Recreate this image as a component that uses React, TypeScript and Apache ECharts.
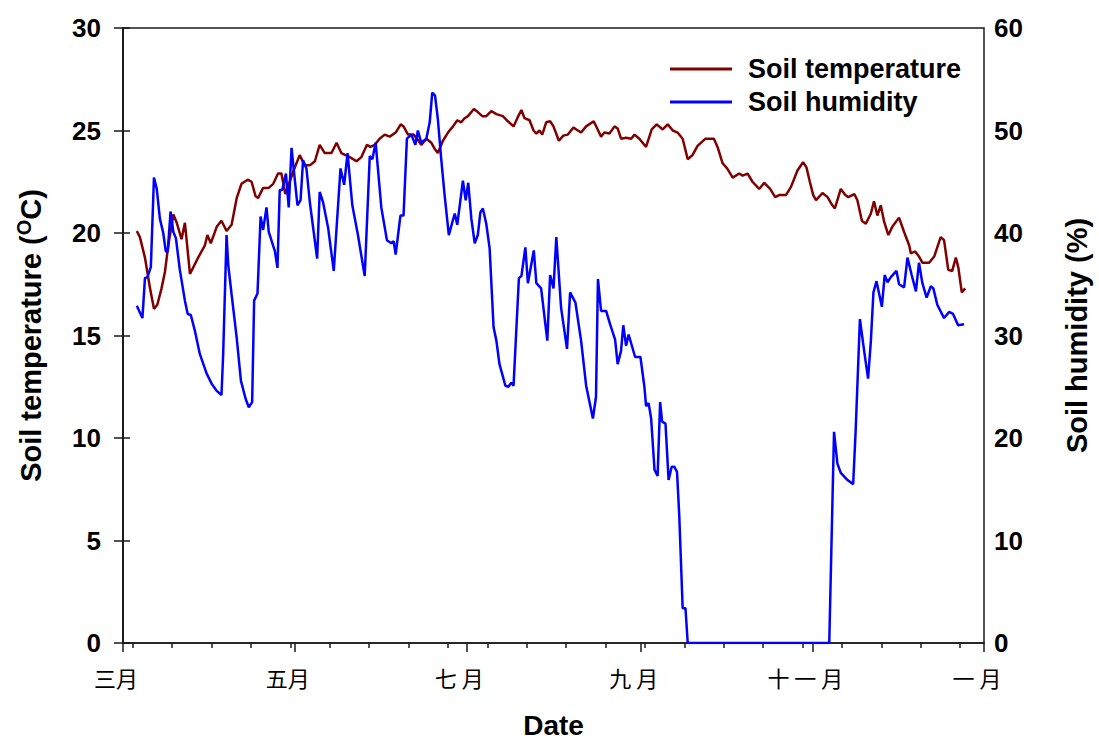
import React, { useEffect, useRef } from "react";
import * as echarts from "echarts";

// Day offsets counted from 1 March (0) to 1 January (306)
const monthTicks = [0, 61, 122, 184, 245, 306];
const monthLabels = ["三月", "五月", "七 月", "九 月", "十 一 月", "一 月"];
const minorTicks = [3.5, 17.5, 31.5, 45.5, 59.5, 73.5, 87.5, 101.5, 115.5, 129.5, 143.5, 157.5, 171.5, 185.5, 199.5, 213.5, 227.5, 241.5, 255.5, 269.5, 283.5, 297.5];

const tempDays = [4.9, 6.0, 7.8, 9.6, 11.0, 12.2, 13.7, 14.9, 16.1, 17.9, 19.1, 20.8, 22.0, 23.8, 26.7, 29.1, 30.0, 31.2, 33.3, 35.0, 36.8, 38.6, 40.4, 42.1, 44.3, 45.7, 47.1, 48.0, 49.8, 51.8, 53.4, 55.1, 56.3, 57.7, 60.5, 62.8, 64.6, 66.4, 68.2, 69.9, 71.7, 74.1, 75.9, 77.6, 80.6, 83.0, 84.7, 86.7, 87.9, 89.5, 91.2, 93.0, 94.8, 96.9, 98.7, 99.7, 101.3, 103.3, 104.5, 106.0, 107.8, 109.6, 110.8, 111.9, 113.7, 115.5, 117.3, 118.8, 120.2, 121.4, 122.6, 124.7, 126.1, 127.7, 129.1, 130.9, 132.7, 135.0, 136.8, 138.8, 140.3, 141.6, 142.7, 144.5, 145.9, 146.9, 148.0, 149.0, 150.4, 151.8, 153.0, 154.9, 156.5, 158.1, 160.1, 161.1, 162.8, 164.6, 167.3, 168.7, 169.9, 171.1, 172.9, 174.7, 175.8, 177.0, 178.8, 180.6, 181.8, 183.5, 185.9, 187.9, 189.7, 191.8, 193.6, 195.4, 197.1, 198.9, 200.7, 202.4, 204.2, 207.0, 208.4, 210.0, 211.3, 213.1, 214.7, 216.7, 219.0, 220.2, 222.0, 223.7, 226.1, 227.9, 230.0, 231.8, 233.2, 235.6, 237.4, 239.7, 241.7, 242.9, 244.1, 245.3, 246.3, 248.6, 250.4, 252.1, 253.0, 255.1, 256.7, 257.8, 259.9, 261.0, 262.6, 264.0, 265.8, 266.9, 268.1, 269.3, 270.5, 272.0, 273.4, 275.8, 277.6, 279.4, 280.0, 281.5, 282.9, 284.1, 286.5, 288.3, 290.6, 291.8, 293.3, 294.7, 296.0, 296.9, 298.1, 299.3];
const tempValues = [20.1, 19.8, 18.8, 17.3, 16.3, 16.5, 17.3, 18.1, 19.4, 20.9, 20.5, 19.7, 20.5, 18.0, 18.8, 19.4, 19.9, 19.5, 20.3, 20.6, 20.1, 20.4, 21.7, 22.4, 22.6, 22.5, 21.8, 21.7, 22.2, 22.2, 22.4, 22.9, 22.9, 21.9, 23.0, 23.8, 23.3, 23.3, 23.5, 24.3, 23.9, 23.9, 24.4, 23.9, 23.7, 23.5, 23.7, 24.3, 24.2, 24.3, 24.6, 24.8, 24.7, 24.9, 25.3, 25.2, 24.8, 24.8, 24.6, 24.3, 24.6, 24.4, 24.1, 23.9, 24.5, 24.9, 25.2, 25.5, 25.4, 25.6, 25.7, 26.05, 25.9, 25.7, 25.7, 25.95, 25.8, 25.7, 25.45, 25.2, 25.65, 26.0, 25.6, 25.5, 25.0, 24.85, 25.0, 24.8, 25.4, 25.45, 25.2, 24.5, 24.75, 24.8, 25.15, 25.05, 24.9, 25.2, 25.45, 25.05, 24.7, 24.9, 24.85, 25.2, 25.1, 24.6, 24.65, 24.6, 24.8, 24.6, 24.2, 25.05, 25.3, 25.05, 25.3, 25.0, 24.9, 24.6, 23.6, 23.8, 24.25, 24.6, 24.6, 24.6, 24.2, 23.4, 23.15, 22.7, 22.9, 22.8, 22.9, 22.5, 22.15, 22.45, 22.15, 21.75, 21.85, 21.85, 22.25, 23.05, 23.45, 23.2, 22.5, 21.85, 21.6, 21.95, 21.75, 21.35, 21.2, 22.15, 21.85, 21.75, 21.9, 21.6, 20.6, 20.45, 20.95, 21.55, 20.85, 21.35, 20.55, 19.9, 20.3, 20.75, 20.05, 19.4, 19.0, 19.1, 18.85, 18.55, 18.55, 18.85, 19.8, 19.65, 18.2, 18.15, 18.8, 18.3, 17.1, 17.3];

const humDays = [4.9, 6.9, 7.8, 8.7, 9.9, 11.0, 12.0, 13.1, 14.3, 15.2, 15.9, 16.9, 17.9, 18.8, 20.2, 22.0, 23.0, 24.1, 25.6, 27.3, 29.7, 31.5, 33.3, 35.0, 35.6, 36.8, 37.4, 38.6, 40.4, 41.9, 43.6, 44.7, 45.9, 46.6, 47.8, 48.9, 49.8, 51.0, 51.8, 54.0, 54.9, 55.7, 56.6, 57.9, 58.9, 59.9, 60.8, 62.0, 63.1, 64.0, 65.2, 66.4, 69.0, 69.9, 71.1, 72.9, 74.9, 77.3, 78.6, 79.8, 81.5, 83.5, 85.9, 87.7, 88.6, 89.8, 91.8, 93.8, 95.4, 96.2, 96.9, 98.6, 99.7, 100.9, 102.5, 103.9, 104.8, 106.0, 107.8, 109.0, 109.9, 110.9, 111.9, 113.1, 114.3, 115.8, 117.9, 118.8, 120.8, 121.8, 122.7, 123.8, 125.0, 126.1, 127.0, 127.9, 129.1, 130.3, 131.7, 132.7, 133.8, 135.9, 137.0, 138.0, 138.8, 140.7, 141.6, 143.0, 143.9, 146.0, 146.9, 148.6, 150.8, 151.8, 153.0, 154.0, 155.7, 157.8, 158.9, 160.8, 162.8, 164.6, 167.0, 168.1, 168.8, 169.9, 171.7, 173.1, 174.9, 175.8, 177.0, 177.8, 178.8, 179.7, 182.0, 183.9, 185.3, 185.9, 186.8, 187.7, 188.9, 190.0, 190.9, 191.6, 192.8, 193.9, 195.0, 195.9, 196.9, 197.7, 198.9, 199.9, 200.7, 251.0, 252.7, 253.9, 255.1, 257.5, 259.5, 260.4, 261.9, 263.4, 264.8, 265.8, 266.7, 267.8, 269.7, 270.7, 271.7, 272.9, 274.9, 275.8, 277.6, 278.8, 280.3, 281.8, 282.9, 284.1, 285.6, 287.1, 288.0, 289.4, 291.8, 293.6, 295.0, 296.8, 298.9];
const humValues = [32.9, 31.7, 35.6, 35.7, 36.7, 45.4, 44.3, 41.4, 40.0, 38.2, 38.2, 42.1, 40.1, 39.5, 36.4, 33.4, 32.1, 32.0, 30.4, 28.2, 26.3, 25.3, 24.6, 24.2, 28.2, 39.8, 36.9, 34.0, 29.8, 25.6, 23.8, 23.0, 23.5, 33.4, 34.1, 41.6, 40.3, 42.5, 40.1, 38.2, 36.6, 44.2, 44.2, 45.8, 42.5, 48.3, 45.9, 42.7, 43.2, 47.1, 46.3, 43.0, 37.5, 44.0, 43.0, 40.5, 36.3, 46.3, 44.7, 47.8, 42.7, 39.8, 35.8, 47.5, 47.2, 48.8, 42.5, 39.3, 39.0, 39.2, 37.9, 41.7, 41.7, 49.2, 49.6, 48.6, 50.0, 48.8, 49.2, 50.8, 53.7, 53.4, 51.1, 47.2, 43.7, 39.8, 41.9, 40.8, 45.1, 43.2, 44.9, 41.4, 39.0, 39.8, 42.0, 42.4, 40.9, 38.5, 30.8, 29.5, 27.2, 25.1, 25.0, 25.4, 25.1, 35.6, 35.8, 38.6, 35.1, 38.3, 35.1, 34.6, 29.5, 35.9, 34.6, 39.6, 32.7, 28.7, 34.2, 33.2, 29.5, 25.1, 21.9, 24.0, 35.5, 32.4, 32.4, 31.1, 29.6, 27.2, 28.5, 31.0, 29.0, 30.1, 27.9, 27.9, 25.0, 23.1, 23.4, 21.9, 16.9, 16.3, 23.5, 21.6, 21.4, 15.9, 17.2, 17.2, 16.7, 12.4, 3.4, 3.4, 0, 0, 20.6, 17.5, 16.6, 15.9, 15.5, 20.8, 31.6, 28.5, 25.8, 29.5, 34.2, 35.3, 32.8, 35.9, 35.2, 35.7, 36.3, 35.0, 34.7, 37.6, 35.9, 34.3, 37.1, 35.1, 33.7, 34.8, 34.6, 33.0, 31.7, 32.3, 32.1, 31.0, 31.1];

const FONT = "Arial, 'Liberation Sans', sans-serif";
const CJK = "'Noto Sans CJK SC', 'Noto Sans CJK JP', sans-serif";
const AXIS_COLOR = "#1a1a1a";

export default function App() {
  const ref = useRef<HTMLDivElement>(null);

  useEffect(() => {
    if (!ref.current) return;
    const chart = echarts.init(ref.current, undefined, { renderer: "svg" });
    const tempData = tempDays.map((d, i) => [d, tempValues[i]]);
    const humData = humDays.map((d, i) => [d, humValues[i]]);

    chart.setOption({
      animation: false,
      backgroundColor: "#ffffff",
      textStyle: { fontFamily: FONT },
      grid: {
        left: 123,
        width: 862,
        top: 28,
        height: 620,
        show: true,
        borderColor: AXIS_COLOR,
        borderWidth: 1.5,
      },
      legend: {
        orient: "vertical",
        left: 670,
        top: 54,
        padding: 0,
        itemWidth: 62,
        itemHeight: 3,
        itemGap: 3,
        icon: "rect",
        textStyle: {
          fontFamily: FONT,
          fontSize: 27,
          fontWeight: "bold",
          color: "#000",
          lineHeight: 30,
          padding: [0, 0, 0, 11],
        },
        data: ["Soil temperature", "Soil humidity"],
      },
      xAxis: [
        {
          type: "value",
          min: 0,
          max: 306,
          position: "bottom",
          name: "Date",
          nameLocation: "middle",
          nameGap: 68,
          nameTextStyle: { fontFamily: FONT, fontSize: 28, fontWeight: "bold", color: "#000" },
          splitLine: { show: false },
          axisLine: { show: true, lineStyle: { color: AXIS_COLOR, width: 1.5 } },
          axisTick: {
            show: true,
            inside: false,
            length: 9,
            customValues: monthTicks,
            lineStyle: { color: AXIS_COLOR, width: 1.5 },
          },
          axisLabel: {
            show: true,
            customValues: monthTicks,
            margin: 23,
            fontFamily: CJK,
            fontSize: 22,
            color: "#000",
            padding: [0, 14, 0, 0],
            formatter: (v: number) => {
              const idx = monthTicks.indexOf(v);
              return idx >= 0 ? monthLabels[idx] : "";
            },
          },
        },
        {
          type: "value",
          min: 0,
          max: 306,
          position: "bottom",
          splitLine: { show: false },
          axisLine: { show: false },
          axisLabel: { show: false },
          axisTick: {
            show: true,
            inside: false,
            length: 5,
            customValues: minorTicks,
            lineStyle: { color: AXIS_COLOR, width: 1.5 },
          },
        },
      ],
      yAxis: [
        {
          type: "value",
          min: 0,
          max: 30,
          interval: 5,
          position: "left",
          name: "Soil temperature ({sup|O}C)",
          nameLocation: "middle",
          nameRotate: 90,
          nameGap: 75,
          nameTextStyle: {
            fontFamily: FONT,
            fontSize: 29,
            fontWeight: "bold",
            color: "#000",
            rich: {
              sup: { fontFamily: FONT, fontSize: 20, fontWeight: "bold", color: "#000", padding: [0, 0, 14, 0] },
            },
          },
          splitLine: { show: false },
          axisLine: { show: true, lineStyle: { color: AXIS_COLOR, width: 1.5 } },
          axisTick: { show: true, inside: false, length: 9, lineStyle: { color: AXIS_COLOR, width: 1.5 } },
          axisLabel: { margin: 22, fontFamily: FONT, fontSize: 26, fontWeight: "bold", color: "#000" },
        },
        {
          type: "value",
          min: 0,
          max: 60,
          interval: 10,
          position: "right",
          name: "Soil humidity (%)",
          nameLocation: "middle",
          nameRotate: 90,
          nameGap: 78,
          nameTextStyle: { fontFamily: FONT, fontSize: 29, fontWeight: "bold", color: "#000" },
          splitLine: { show: false },
          axisLine: { show: true, lineStyle: { color: AXIS_COLOR, width: 1.5 } },
          axisTick: { show: true, inside: false, length: 7, lineStyle: { color: AXIS_COLOR, width: 1.5 } },
          axisLabel: { margin: 10, fontFamily: FONT, fontSize: 26, fontWeight: "bold", color: "#000" },
        },
      ],
      series: [
        {
          name: "Soil temperature",
          type: "line",
          xAxisIndex: 0,
          yAxisIndex: 0,
          data: tempData,
          showSymbol: false,
          symbol: "none",
          lineStyle: { color: "#800000", width: 2.5 },
          itemStyle: { color: "#800000" },
        },
        {
          name: "Soil humidity",
          type: "line",
          xAxisIndex: 0,
          yAxisIndex: 1,
          data: humData,
          showSymbol: false,
          symbol: "none",
          lineStyle: { color: "#0000ff", width: 2.5 },
          itemStyle: { color: "#0000ff" },
        },
      ],
    });

    return () => chart.dispose();
  }, []);

  return (
    <div
      ref={ref}
      style={{ position: "fixed", left: 0, top: 0, width: 1099, height: 744, background: "#fff" }}
    />
  );
}
